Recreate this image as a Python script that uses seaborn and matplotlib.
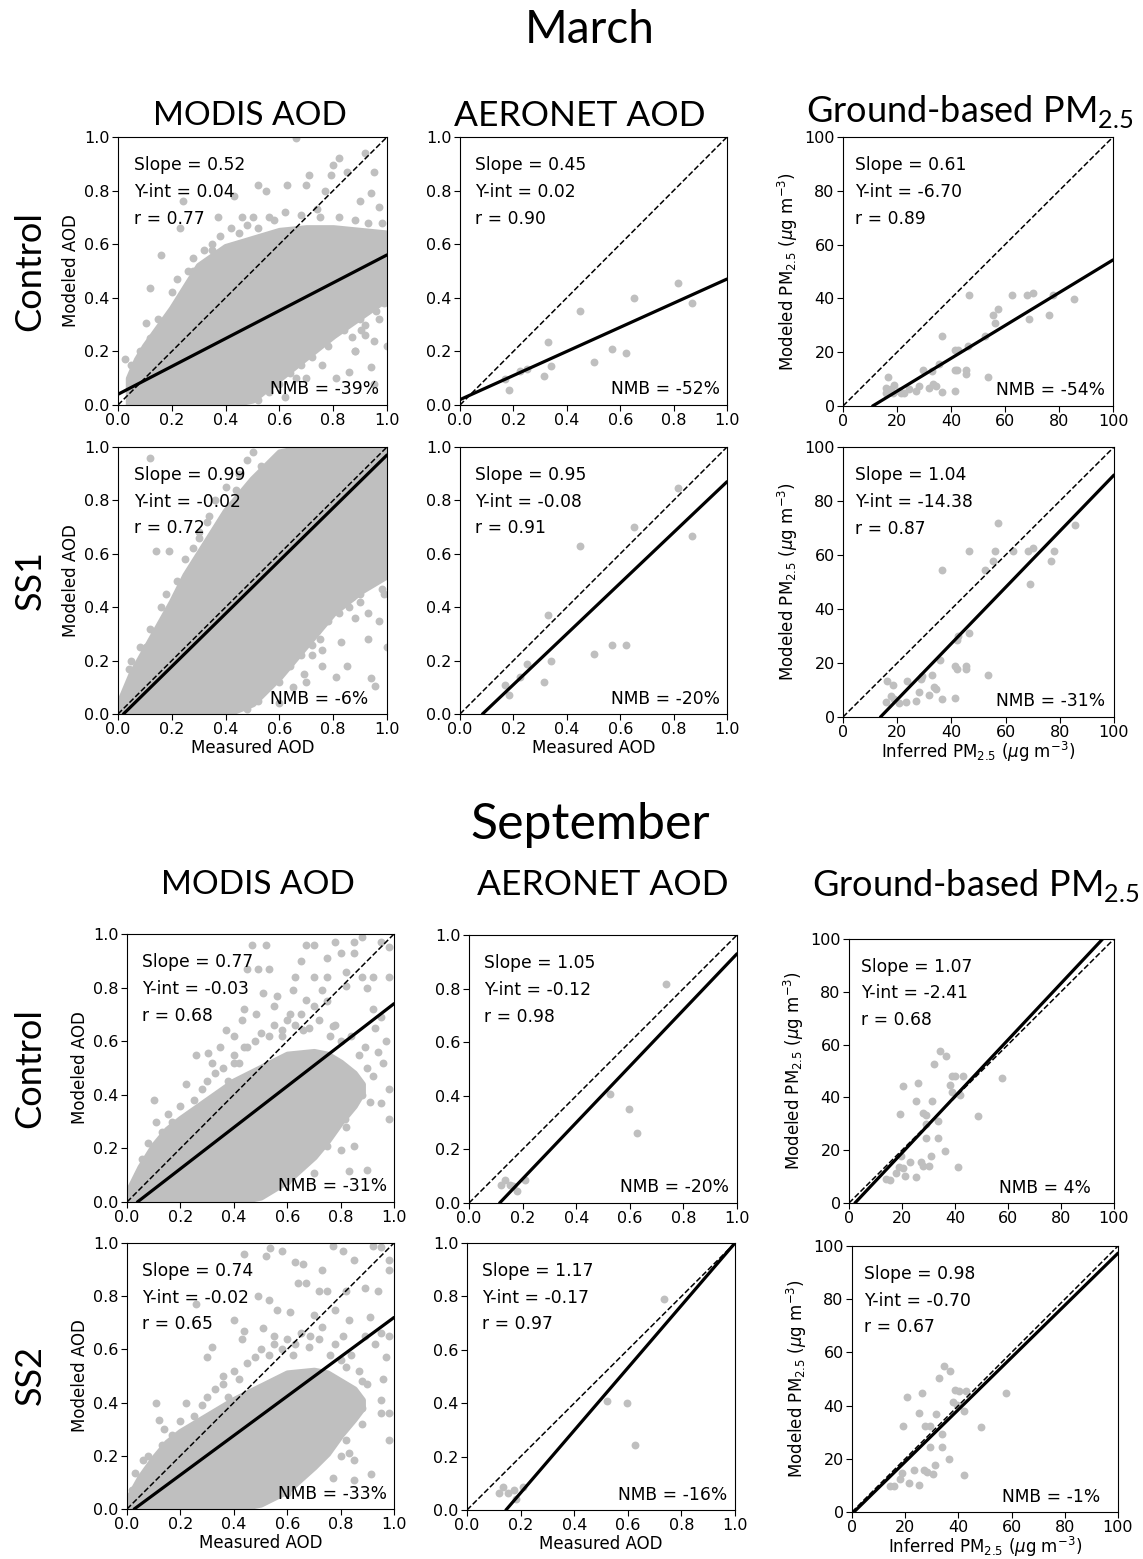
import matplotlib
matplotlib.use("Agg")
import matplotlib.pyplot as plt
import seaborn as sns

# ---------------- data ----------------
rows = ["Control", "SS1", "Control", "SS2"]
months = ["March", "September"]
columns = ["MODIS AOD", "AERONET AOD", "Ground-based PM$_{\\mathregular{2.5}}$"]

# fit statistics, rows: Mar Control, Mar SS1, Sep Control, Sep SS2
modis_slope = [0.52, 0.99, 0.77, 0.74]
modis_yint = [0.04, -0.02, -0.03, -0.02]
modis_r = [0.77, 0.72, 0.68, 0.65]
modis_nmb = [-39, -6, -31, -33]

aeronet_slope = [0.45, 0.95, 1.05, 1.17]
aeronet_yint = [0.02, -0.08, -0.12, -0.17]
aeronet_r = [0.90, 0.91, 0.98, 0.97]
aeronet_nmb = [-52, -20, -20, -16]

pm_slope = [0.61, 1.04, 1.07, 0.98]
pm_yint = [-6.70, -14.38, -2.41, -0.70]
pm_r = [0.89, 0.87, 0.68, 0.67]
pm_nmb = [-54, -31, 4, -1]

# MODIS: dense core of the point cloud (envelope) plus the scattered points around it
modis_core_x = [
    [0.04, 0.07, 0.1, 0.15, 0.2, 0.25, 0.3, 0.4, 0.5, 0.6, 0.7, 0.8, 0.9, 1.0],
    [0.0, 0.05, 0.1, 0.15, 0.2, 0.25, 0.3, 0.35, 0.4, 0.5, 0.6, 0.7, 0.8, 0.9, 1.0],
    [0.0, 0.05, 0.1, 0.15, 0.2, 0.3, 0.4, 0.5, 0.6, 0.7, 0.75, 0.8, 0.85, 0.88],
    [0.0, 0.05, 0.1, 0.15, 0.2, 0.3, 0.4, 0.5, 0.6, 0.7, 0.75, 0.8, 0.85, 0.88],
]
modis_core_hi = [
    [0.10, 0.17, 0.22, 0.29, 0.36, 0.44, 0.52, 0.59, 0.62, 0.65, 0.66, 0.66, 0.65, 0.64],
    [0.03, 0.15, 0.24, 0.33, 0.42, 0.52, 0.60, 0.68, 0.76, 0.88, 0.98, 1.0, 1.0, 1.0, 1.0],
    [0.03, 0.13, 0.21, 0.27, 0.31, 0.38, 0.45, 0.50, 0.55, 0.56, 0.55, 0.52, 0.48, 0.44],
    [0.03, 0.12, 0.19, 0.25, 0.29, 0.35, 0.41, 0.46, 0.51, 0.52, 0.51, 0.48, 0.45, 0.41],
]
modis_core_lo = [
    [0.00, 0.00, 0.00, 0.00, 0.00, 0.00, 0.00, 0.00, 0.02, 0.10, 0.18, 0.26, 0.33, 0.40],
    [0.0, 0.0, 0.0, 0.0, 0.0, 0.0, 0.0, 0.0, 0.0, 0.04, 0.14, 0.26, 0.38, 0.46, 0.52],
    [0.0, 0.0, 0.0, 0.0, 0.0, 0.0, 0.0, 0.02, 0.08, 0.17, 0.23, 0.30, 0.36, 0.41],
    [0.0, 0.0, 0.0, 0.0, 0.0, 0.0, 0.0, 0.02, 0.07, 0.16, 0.21, 0.28, 0.34, 0.38],
]
modis_pts_x = [
    [0.66, 0.92, 0.82, 0.80, 0.85, 0.95, 0.71, 0.79, 0.63, 0.52, 0.55, 0.70, 0.94, 0.77,
     0.43, 0.24, 0.74, 0.90, 0.97, 0.37, 0.46, 0.50, 0.58, 0.23, 0.16, 0.025, 0.105, 0.12,
     1.0, 0.905, 0.95, 0.94, 0.86, 0.81, 0.95, 0.76, 0.74, 0.68, 0.80, 0.87, 0.97, 0.995,
     0.33, 0.28, 0.35, 0.62, 0.66, 0.88, 0.92,
     0.20, 0.22, 0.26, 0.28, 0.32, 0.35, 0.38, 0.42, 0.45, 0.48, 0.52, 0.56, 0.62, 0.68,
     0.75, 0.82, 0.88, 0.93, 0.98, 0.15, 0.12, 0.08, 0.05, 0.52, 0.56, 0.60, 0.64, 0.68,
     0.72, 0.78, 0.84, 0.90, 0.96, 0.99, 0.88, 0.92, 0.70],
    [0.12, 0.14, 0.19, 0.04, 0.105, 0.74, 0.75, 0.83, 0.76, 0.76, 0.81, 0.85, 0.88, 0.93,
     0.94, 0.955, 0.65, 0.99, 0.98, 1.0, 0.33, 0.44, 0.53, 0.69, 0.72, 0.93, 0.97, 0.86,
     0.90, 0.60, 0.70, 0.25, 0.30,
     0.05, 0.08, 0.12, 0.16, 0.18, 0.22, 0.25, 0.28, 0.30, 0.34, 0.36, 0.40, 0.45, 0.48,
     0.50, 0.48, 0.52, 0.55, 0.60, 0.64, 0.68, 0.72, 0.78, 0.82, 0.87, 0.92, 0.96, 0.99,
     0.90, 0.58],
    [0.47, 0.52, 0.67, 0.70, 0.78, 0.85, 0.88, 0.95, 0.98, 0.65, 0.75, 0.80, 0.85, 0.45,
     0.49, 0.53, 0.63, 0.70, 0.75, 0.82, 0.88, 0.92, 0.98, 0.51, 0.56, 0.62, 0.67, 0.73,
     0.82, 0.90, 0.44, 0.485, 0.55, 0.61, 0.70, 0.75, 0.92, 0.95, 0.37, 0.305, 0.26, 0.32,
     0.22, 0.10, 0.155, 0.11, 0.056, 0.04, 0.77, 0.89, 0.94, 0.98, 0.98, 0.92, 0.85, 0.81,
     0.85, 0.91, 0.95, 0.815, 0.85, 0.80, 0.75, 0.71, 0.67, 0.635, 0.83, 0.90, 0.70, 0.635,
     0.58, 0.66, 0.40, 0.44,
     0.30, 0.33, 0.36, 0.40, 0.42, 0.45, 0.48, 0.50, 0.53, 0.55, 0.58, 0.60, 0.63, 0.65,
     0.68, 0.72, 0.76, 0.78, 0.80, 0.84, 0.87, 0.90, 0.96, 0.85, 0.88, 0.78, 0.82, 0.76,
     0.72, 0.66, 0.68, 0.62, 0.58, 0.55, 0.52, 0.60, 0.25, 0.20, 0.17, 0.13, 0.08, 0.06,
     0.28, 0.38, 0.93, 0.97, 0.40, 0.43, 0.35],
    [0.535, 0.58, 0.77, 0.81, 0.92, 0.95, 0.44, 0.52, 0.63, 0.66, 0.73, 0.85, 0.98, 0.98,
     0.64, 0.67, 0.72, 0.75, 0.82, 0.89, 0.94, 0.49, 0.53, 0.26, 0.56, 0.61, 0.70, 0.78,
     0.83, 0.91, 0.40, 0.44, 0.51, 0.55, 0.685, 0.73, 0.81, 0.89, 0.95, 0.98, 0.32, 0.30,
     0.22, 0.11, 0.14, 0.12, 0.06, 0.03, 0.02, 0.82, 0.88, 0.95, 0.98, 0.95, 0.98, 0.85,
     0.88, 0.72, 0.75, 0.83, 0.85, 0.80, 0.77, 0.915, 0.85, 0.61, 0.62, 0.36,
     0.30, 0.33, 0.36, 0.40, 0.42, 0.45, 0.48, 0.50, 0.53, 0.55, 0.58, 0.60, 0.63, 0.65,
     0.68, 0.72, 0.76, 0.78, 0.80, 0.84, 0.87, 0.90, 0.96, 0.85, 0.88, 0.78, 0.82, 0.76,
     0.72, 0.66, 0.68, 0.62, 0.58, 0.55, 0.52, 0.60, 0.25, 0.20, 0.17, 0.13, 0.08, 0.06,
     0.28, 0.38, 0.93, 0.97, 0.43],
]
modis_pts_y = [
    [0.995, 0.94, 0.92, 0.895, 0.87, 0.87, 0.86, 0.86, 0.82, 0.82, 0.80, 0.82, 0.79, 0.80,
     0.78, 0.76, 0.73, 0.76, 0.74, 0.70, 0.70, 0.70, 0.69, 0.66, 0.56, 0.17, 0.305, 0.435,
     0.22, 0.28, 0.24, 0.14, 0.125, 0.10, 0.08, 0.15, 0.24, 0.18, 0.34, 0.255, 0.32, 0.45,
     0.52, 0.50, 0.58, 0.03, 0.10, 0.20, 0.30,
     0.42, 0.47, 0.50, 0.55, 0.58, 0.60, 0.63, 0.66, 0.64, 0.67, 0.66, 0.70, 0.72, 0.71,
     0.70, 0.70, 0.69, 0.68, 0.68, 0.32, 0.25, 0.20, 0.15, 0.02, 0.05, 0.08, 0.12, 0.15,
     0.18, 0.22, 0.28, 0.32, 0.35, 0.38, 0.20, 0.26, 0.10],
    [0.96, 0.61, 0.61, 0.17, 0.25, 0.31, 0.28, 0.27, 0.24, 0.18, 0.14, 0.18, 0.36, 0.38,
     0.135, 0.105, 0.10, 0.45, 0.47, 0.25, 0.72, 0.84, 0.93, 0.15, 0.22, 0.28, 0.35, 0.40,
     0.45, 0.04, 0.12, 0.47, 0.66,
     0.20, 0.25, 0.32, 0.40, 0.45, 0.50, 0.58, 0.62, 0.68, 0.74, 0.80, 0.85, 0.90, 0.95,
     0.98, 0.02, 0.05, 0.10, 0.12, 0.18, 0.22, 0.26, 0.35, 0.38, 0.44, 0.48, 0.52, 0.55,
     0.42, 0.20],
    [0.96, 0.96, 0.96, 0.96, 0.97, 0.97, 0.99, 0.97, 0.95, 0.90, 0.91, 0.93, 0.93, 0.87,
     0.87, 0.87, 0.84, 0.84, 0.84, 0.86, 0.84, 0.84, 0.84, 0.78, 0.77, 0.79, 0.755, 0.79,
     0.805, 0.80, 0.72, 0.70, 0.73, 0.70, 0.73, 0.75, 0.72, 0.69, 0.64, 0.556, 0.55, 0.52,
     0.44, 0.38, 0.33, 0.30, 0.16, 0.10, 0.655, 0.58, 0.56, 0.42, 0.31, 0.47, 0.47, 0.43,
     0.375, 0.375, 0.37, 0.31, 0.21, 0.195, 0.21, 0.26, 0.245, 0.16, 0.115, 0.12, 0.11, 0.32,
     0.62, 0.64, 0.52, 0.58,
     0.45, 0.48, 0.50, 0.55, 0.52, 0.58, 0.60, 0.63, 0.62, 0.66, 0.64, 0.68, 0.66, 0.70,
     0.65, 0.68, 0.62, 0.66, 0.60, 0.62, 0.55, 0.50, 0.52, 0.45, 0.40, 0.40, 0.28, 0.33,
     0.36, 0.30, 0.20, 0.24, 0.18, 0.12, 0.05, 0.08, 0.38, 0.36, 0.30, 0.26, 0.22, 0.13,
     0.42, 0.45, 0.65, 0.60, 0.62, 0.68, 0.58],
    [0.98, 0.97, 0.99, 0.97, 0.99, 0.985, 0.96, 0.95, 0.93, 0.92, 0.90, 0.935, 0.935, 0.90,
     0.85, 0.85, 0.82, 0.82, 0.82, 0.83, 0.82, 0.80, 0.785, 0.77, 0.75, 0.74, 0.73, 0.75,
     0.71, 0.72, 0.71, 0.67, 0.68, 0.65, 0.65, 0.685, 0.65, 0.65, 0.66, 0.65, 0.61, 0.57,
     0.40, 0.40, 0.30, 0.335, 0.185, 0.135, 0.07, 0.535, 0.48, 0.41, 0.36, 0.36, 0.26, 0.355,
     0.32, 0.31, 0.24, 0.21, 0.185, 0.20, 0.115, 0.13, 0.11, 0.21, 0.58, 0.50,
     0.42, 0.45, 0.47, 0.52, 0.49, 0.55, 0.57, 0.60, 0.58, 0.62, 0.60, 0.64, 0.62, 0.66,
     0.61, 0.64, 0.58, 0.62, 0.56, 0.58, 0.52, 0.47, 0.49, 0.42, 0.38, 0.37, 0.26, 0.31,
     0.34, 0.28, 0.18, 0.22, 0.16, 0.10, 0.04, 0.06, 0.35, 0.33, 0.28, 0.24, 0.20, 0.12,
     0.39, 0.42, 0.62, 0.57, 0.64],
]

# AERONET sites
aeronet_x = [
    [0.17, 0.185, 0.225, 0.25, 0.315, 0.33, 0.34, 0.45, 0.50, 0.57, 0.62, 0.65, 0.815, 0.87],
    [0.17, 0.185, 0.225, 0.25, 0.315, 0.33, 0.34, 0.45, 0.50, 0.57, 0.62, 0.65, 0.815, 0.87],
    [0.118, 0.133, 0.152, 0.165, 0.18, 0.21, 0.526, 0.596, 0.626, 0.736],
    [0.118, 0.133, 0.152, 0.175, 0.184, 0.21, 0.524, 0.596, 0.626, 0.736],
]
aeronet_y = [
    [0.097, 0.057, 0.126, 0.134, 0.109, 0.236, 0.144, 0.35, 0.16, 0.208, 0.195, 0.40, 0.456, 0.38],
    [0.108, 0.072, 0.14, 0.187, 0.118, 0.372, 0.20, 0.63, 0.225, 0.26, 0.257, 0.70, 0.845, 0.667],
    [0.068, 0.087, 0.068, 0.062, 0.045, 0.085, 0.405, 0.349, 0.262, 0.817],
    [0.065, 0.085, 0.065, 0.075, 0.04, 0.087, 0.408, 0.401, 0.243, 0.79],
]

# ground-based PM2.5 sites
pm_x = [
    [16.5, 15.9, 15.9, 17.7, 19.0, 18.6, 20.8, 21.5, 22.7, 24.6, 27.0, 28.0, 29.5, 32.0,
     33.5, 34.5, 33.0, 35.7, 36.6, 36.7, 41.3, 42.5, 41.6, 42.2, 41.6, 45.4, 45.4, 46.4,
     46.5, 52.5, 53.7, 55.6, 56.2, 57.3, 62.7, 68.0, 70.5, 68.9, 76.4, 77.9, 85.6],
    [16.4, 15.8, 17.6, 18.5, 18.9, 20.7, 23.2, 23.8, 26.9, 28.1, 28.7, 29.3, 31.8, 33.0,
     33.4, 34.3, 35.9, 36.5, 36.7, 41.3, 42.0, 41.9, 42.3, 41.4, 45.4, 45.4, 46.4, 46.4,
     52.5, 53.6, 55.5, 56.0, 57.2, 62.8, 68.2, 70.0, 68.9, 76.6, 77.8, 85.7],
    [13.9, 15.5, 17.8, 18.8, 19.1, 19.8, 20.5, 20.5, 21.1, 23.0, 25.1, 25.1, 25.9, 27.0,
     28.0, 27.8, 29.0, 29.0, 29.0, 30.3, 30.9, 31.4, 32.2, 33.7, 33.7, 34.3, 36.6, 36.4,
     38.1, 38.7, 38.7, 40.0, 41.2, 41.8, 43.1, 48.7, 57.9],
    [14.2, 15.7, 17.9, 18.8, 19.2, 20.7, 21.3, 23.2, 25.3, 25.3, 26.3, 27.2, 28.2, 27.6,
     29.2, 29.2, 30.3, 31.1, 31.7, 32.6, 33.8, 33.8, 34.5, 36.7, 36.6, 38.0, 38.8, 39.5,
     40.1, 42.0, 42.2, 43.0, 48.6, 57.8],
]
pm_y = [
    [10.8, 6.8, 5.0, 6.2, 7.7, 5.0, 5.6, 5.0, 5.0, 6.2, 5.6, 7.4, 13.4, 6.8,
     8.0, 7.4, 13.0, 15.5, 26.2, 5.3, 20.7, 20.8, 13.4, 13.2, 5.6, 13.4, 11.8, 22.4,
     41.2, 25.9, 10.6, 34.0, 30.9, 35.9, 41.2, 41.2, 42.1, 32.4, 33.9, 41.2, 39.9],
    [13.3, 5.5, 7.8, 11.7, 6.5, 5.3, 5.5, 13.3, 5.9, 9.2, 13.9, 15.2, 8.0, 15.4,
     11.2, 10.5, 21.0, 54.3, 6.5, 18.9, 17.6, 28.7, 30.0, 7.2, 18.9, 17.6, 31.2, 61.4,
     54.3, 15.4, 57.9, 61.4, 71.8, 61.4, 61.4, 62.6, 49.4, 57.9, 61.4, 71.1],
    [9.1, 8.8, 11.3, 13.6, 33.8, 17.7, 44.4, 13.2, 10.1, 15.4, 9.8, 38.5, 45.6, 15.4,
     13.9, 34.0, 33.4, 29.9, 24.8, 14.1, 17.9, 38.7, 52.6, 30.9, 24.8, 57.6, 55.7, 19.8,
     44.8, 48.2, 42.1, 48.2, 13.6, 41.0, 48.2, 33.0, 47.3],
    [9.9, 9.6, 12.4, 14.6, 32.5, 43.4, 10.9, 15.9, 10.3, 37.1, 44.6, 15.9, 15.2, 32.5,
     32.5, 24.4, 14.4, 17.8, 36.7, 50.5, 29.4, 24.4, 55.0, 53.0, 19.9, 41.5, 45.9, 40.1,
     45.5, 14.0, 38.1, 45.5, 31.8, 44.9],
]

# ---------------- layout (pixel boxes of the axes) ----------------
W, H = 1143, 1559
boxes = [
    [(118, 137, 387, 405), (460, 137, 727, 405), (843, 137, 1113, 406)],
    [(118, 447, 387, 714), (460, 447, 727, 714), (843, 447, 1114, 717)],
    [(127, 934, 394, 1202), (469, 935, 737, 1203), (849, 939, 1114, 1203)],
    [(127, 1243, 394, 1509), (467, 1243, 735, 1510), (852, 1246, 1118, 1512)],
]

sns.set_style("ticks")
for key in ["axes.edgecolor", "xtick.color", "ytick.color", "text.color", "axes.labelcolor"]:
    plt.rcParams[key] = "black"

GREY = "#bfbfbf"
HEAD = ["Lato", "DejaVu Sans"]
ANN = 12.3
LAB = 12
TICK = 11.5

fig = plt.figure(figsize=(W / 100, H / 100), dpi=100)


def add_ax(box):
    x0, y0, x1, y1 = box
    return fig.add_axes([x0 / W, 1 - y1 / H, (x1 - x0) / W, (y1 - y0) / H])


def annotate(ax, slope, yint, r, nmb, xpos):
    kw = dict(transform=ax.transAxes, fontsize=ANN, va="center", ha="left")
    ax.text(xpos, 0.895, f"Slope = {slope:.2f}", **kw)
    ax.text(xpos, 0.795, f"Y-int = {yint:.2f}", **kw)
    ax.text(xpos, 0.695, f"r = {r:.2f}", **kw)
    ax.text(0.565, 0.058, f"NMB = {nmb}%", **kw)


def finish(ax, slope, yint, top, fmt):
    ax.axline((0, 0), slope=1, color="black", lw=1.1, ls="--", zorder=3)
    ax.axline((0, yint), slope=slope, color="black", lw=2.3, zorder=4)
    ax.set_xlim(0, top)
    ax.set_ylim(0, top)
    ticks = [top * k / 5 for k in range(6)]
    ax.set_xticks(ticks, [fmt.format(t) for t in ticks])
    ax.set_yticks(ticks, [fmt.format(t) for t in ticks])
    ax.tick_params(labelsize=TICK, length=4, width=0.8, pad=2)
    for s in ax.spines.values():
        s.set_linewidth(0.8)
    ax.set_xlabel("")
    ax.set_ylabel("")


for i in range(4):
    # MODIS
    ax = add_ax(boxes[i][0])
    ax.fill_between(modis_core_x[i], modis_core_lo[i], modis_core_hi[i],
                    color=GREY, lw=5, joinstyle="round", zorder=1)
    sns.scatterplot(x=modis_pts_x[i], y=modis_pts_y[i], ax=ax, color=GREY,
                    s=32, linewidth=0, zorder=2)
    finish(ax, modis_slope[i], modis_yint[i], 1.0, "{:.1f}")
    annotate(ax, modis_slope[i], modis_yint[i], modis_r[i], modis_nmb[i], 0.058)
    ax.set_ylabel("Modeled AOD", fontsize=LAB, labelpad=3)
    if i in (1, 3):
        ax.set_xlabel("Measured AOD", fontsize=LAB, labelpad=1)

    # AERONET
    ax = add_ax(boxes[i][1])
    sns.scatterplot(x=aeronet_x[i], y=aeronet_y[i], ax=ax, color=GREY,
                    s=32, linewidth=0, zorder=2)
    finish(ax, aeronet_slope[i], aeronet_yint[i], 1.0, "{:.1f}")
    annotate(ax, aeronet_slope[i], aeronet_yint[i], aeronet_r[i], aeronet_nmb[i], 0.056)
    if i in (1, 3):
        ax.set_xlabel("Measured AOD", fontsize=LAB, labelpad=1)

    # PM2.5
    ax = add_ax(boxes[i][2])
    sns.scatterplot(x=pm_x[i], y=pm_y[i], ax=ax, color=GREY,
                    s=32, linewidth=0, zorder=2)
    finish(ax, pm_slope[i], pm_yint[i], 100, "{:.0f}")
    annotate(ax, pm_slope[i], pm_yint[i], pm_r[i], pm_nmb[i], 0.045)
    ax.set_ylabel("Modeled PM$_{2.5}$ ($\\mu$g m$^{-3}$)", fontsize=LAB, labelpad=3)
    if i in (1, 3):
        ax.set_xlabel("Inferred PM$_{2.5}$ ($\\mu$g m$^{-3}$)", fontsize=LAB, labelpad=0)

# ---------------- titles and row labels ----------------
def ftext(x, y, s, size, **kw):
    fig.text(x / W, 1 - y / H, s, fontsize=size, family=HEAD,
             ha="center", va="center", **kw)


ftext(590, 30, months[0], 33)
ftext(590, 825, months[1], 36)
head_x = [[250, 580, 970], [258, 603, 976]]
head_y = [[116, 116, 111], [885, 885, 885]]
head_size = [24, 25.5, 26]
for m in range(2):
    for c in range(3):
        ftext(head_x[m][c], head_y[m][c], columns[c], head_size[c])

row_y = [271, 580, 1068, 1375]
for i in range(4):
    ftext(30, row_y[i], rows[i], 26, rotation=90)

fig.savefig("out.png", dpi=100)
